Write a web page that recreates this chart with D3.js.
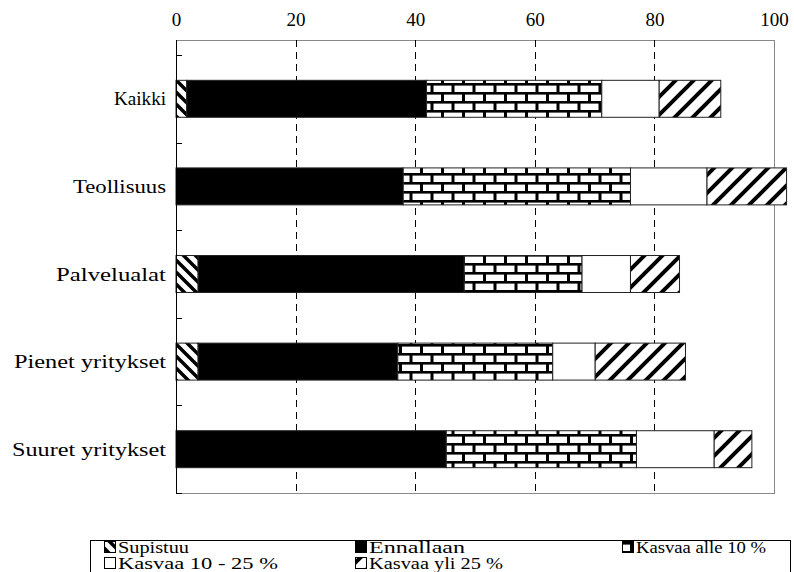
<!DOCTYPE html>
<html><head><meta charset="utf-8">
<script src="https://cdn.jsdelivr.net/npm/d3@7"></script>
<style>body{margin:0;background:#fff}svg{display:block}</style>
</head><body><svg id="c" width="794" height="572"></svg>
<script>
const categories = ["Kaikki","Teollisuus","Palvelualat","Pienet yritykset","Suuret yritykset"];
const seriesNames = ["Supistuu","Ennallaan","Kasvaa alle 10 %","Kasvaa 10 - 25 %","Kasvaa yli 25 %"];
const supistuu   = [1.8, 0,    3.7,  3.7,  0];
const ennallaan  = [40.1, 38.0, 44.5, 33.4, 45.2];
const kasvaaAlle10 = [29.3, 38.0, 19.7, 25.9, 31.8];
const kasvaa10_25  = [9.6, 12.8, 8.1,  7.1,  13.0];
const kasvaaYli25  = [10.3, 13.3, 8.2, 15.1, 6.3];
const xTicks = [0,20,40,60,80,100];

// layout-only: rendered text widths to mimic the reference typeface
const catLabelWidths = [52, 93, 110, 152, 154];
const legendLabelWidths = [71, 96, 130, 160, 134];

const FONT = "Liberation Serif";
const seriesVals = [supistuu, ennallaan, kasvaaAlle10, kasvaa10_25, kasvaaYli25];
const rows = categories.map((c,i)=>{const o={cat:c};seriesNames.forEach((s,j)=>o[s]=seriesVals[j][i]);return o;});

const svg = d3.select("#c").style("font-family",FONT);
const L=176,R=774,T=40,B=493;
const x = d3.scaleLinear().domain([0,100]).range([L,R]);
const y = d3.scaleBand().domain(categories).range([55,B]).paddingInner(0.578).paddingOuter(0.289);

const defs = svg.append("defs");
let p = defs.append("pattern").attr("id","p0").attr("patternUnits","userSpaceOnUse").attr("width",12).attr("height",12);
p.append("rect").attr("width",12).attr("height",12).attr("fill","#fff");
p.append("path").attr("d","M-3,-3L15,15M-3,9L3,15M9,-3L15,3").attr("stroke","#000").attr("stroke-width",3.5);
p = defs.append("pattern").attr("id","p2").attr("patternUnits","userSpaceOnUse").attr("width",21).attr("height",18).attr("y",2);
p.append("rect").attr("width",21).attr("height",18).attr("fill","#fff");
p.append("rect").attr("x",0).attr("y",0).attr("width",21).attr("height",2.6).attr("fill","#000");
p.append("rect").attr("x",0).attr("y",9).attr("width",21).attr("height",2.6).attr("fill","#000");
p.append("rect").attr("x",0).attr("y",0).attr("width",3).attr("height",9).attr("fill","#000");
p.append("rect").attr("x",10.5).attr("y",9).attr("width",3).attr("height",9).attr("fill","#000");
p = defs.append("pattern").attr("id","p4").attr("patternUnits","userSpaceOnUse").attr("width",18).attr("height",18);
p.append("rect").attr("width",18).attr("height",18).attr("fill","#fff");
p.append("path").attr("d","M-4,22L22,-4M-4,4L4,-4M14,22L22,14").attr("stroke","#000").attr("stroke-width",4);
const fills = ["url(#p0)","#000","url(#p2)","#fff","url(#p4)"];

svg.append("rect").attr("x",L+0.5).attr("y",T+0.5).attr("width",R-L).attr("height",B-T).attr("fill","none").attr("stroke","#888").attr("stroke-width",1);
svg.append("g").selectAll("line").data(xTicks.filter(d=>d>0&&d<100)).join("line")
  .attr("x1",d=>Math.round(x(d))+0.5).attr("x2",d=>Math.round(x(d))+0.5).attr("y1",T).attr("y2",B)
  .attr("stroke","#000").attr("stroke-width",1).attr("stroke-dasharray","7,5");

const stack = d3.stack().keys(seriesNames)(rows);
svg.append("g").selectAll("g").data(stack).join("g").attr("fill",(d,i)=>fills[i])
  .selectAll("rect").data(d=>d.filter(v=>v[1]-v[0]>0)).join("rect")
  .attr("x",d=>x(d[0])).attr("width",d=>x(d[1])-x(d[0]))
  .attr("y",d=>y(d.data.cat)).attr("height",y.bandwidth())
  .attr("stroke","#222").attr("stroke-width",1);

svg.append("line").attr("x1",L+0.5).attr("x2",L+0.5).attr("y1",T).attr("y2",B).attr("stroke","#000");
const step=y.step(), gap=(step-y.bandwidth())/2;
const bounds = categories.map(c=>y(c)-gap).concat([B]);
svg.append("g").selectAll("line").data(bounds).join("line")
  .attr("x1",L).attr("x2",L+6).attr("y1",d=>Math.round(d)+0.5).attr("y2",d=>Math.round(d)+0.5).attr("stroke","#000");
svg.append("g").selectAll("text").data(categories).join("text")
  .attr("x",166).attr("y",d=>y(d)+y.bandwidth()/2).attr("dy","0.35em").attr("text-anchor","end")
  .attr("font-size",19).style("font-family",FONT)
  .attr("textLength",(d,i)=>catLabelWidths[i]).attr("lengthAdjust","spacingAndGlyphs").text(d=>d);

const ax = svg.append("g").attr("transform",`translate(0,${T-14})`)
  .call(d3.axisTop(x).tickValues(xTicks).tickSize(0).tickPadding(0));
ax.attr("font-family",null);
ax.select(".domain").remove();
ax.selectAll("text").attr("font-size",19).style("font-family",FONT).attr("fill","#000");

const lg = svg.append("g");
lg.append("rect").attr("x",90.5).attr("y",540.5).attr("width",700).attr("height",40).attr("fill","#fff").attr("stroke","#000");
const pos = [[104,547],[355,547],[622,547],[104,563],[355,563]];
seriesNames.forEach((s,i)=>{
  lg.append("rect").attr("x",pos[i][0]+0.5).attr("y",pos[i][1]-5.5).attr("width",11).attr("height",11)
    .attr("fill",fills[i]).attr("stroke","#000");
  lg.append("text").attr("x",pos[i][0]+14).attr("y",pos[i][1]).attr("dy","0.35em").attr("font-size",16).style("font-family",FONT)
    .attr("textLength",legendLabelWidths[i]).attr("lengthAdjust","spacingAndGlyphs").text(s);
});
</script></body></html>
